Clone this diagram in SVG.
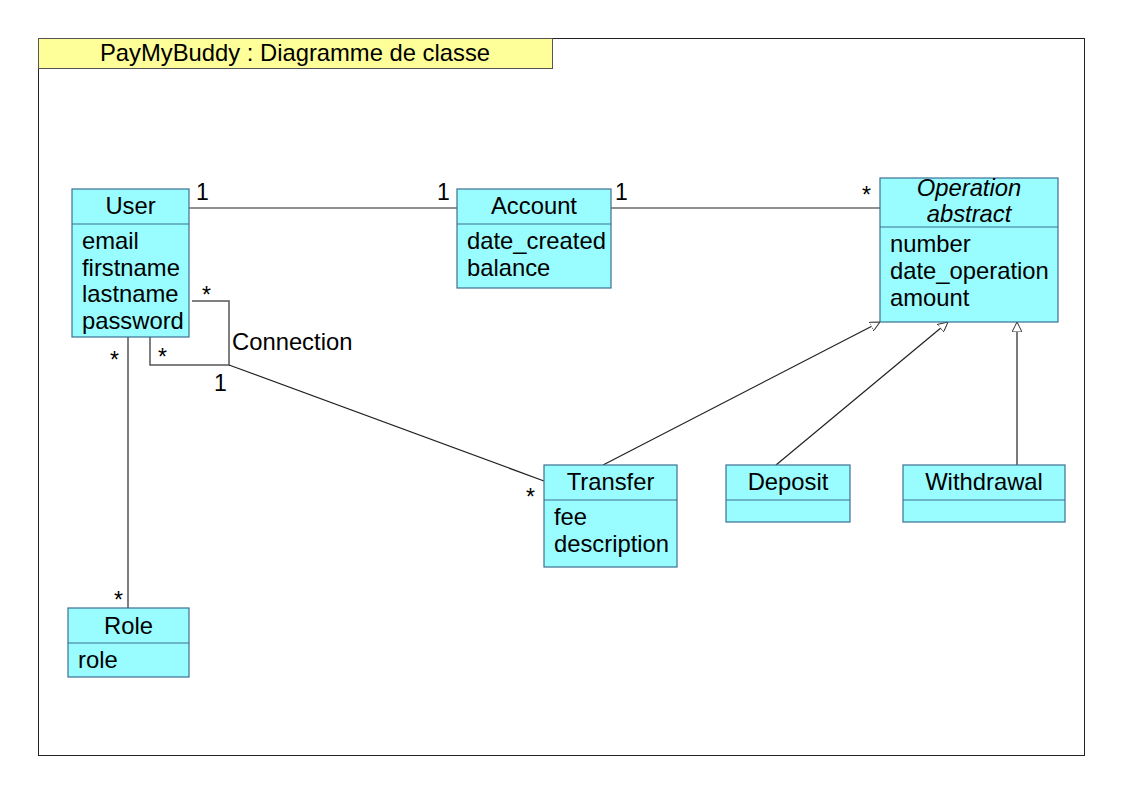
<svg xmlns="http://www.w3.org/2000/svg" width="1123" height="794" viewBox="0 0 1123 794">
<defs>
<style>
text{font-family:"Liberation Sans",Arial,sans-serif;font-size:23.8px;fill:#000}
.c{text-anchor:middle}
.box{fill:#99fcff;stroke:#3d6f92;stroke-width:1.2}
.div{stroke:#3d6f92;stroke-width:1.2}
.ln{fill:none;stroke:#222;stroke-width:1.2}
.gl{fill:none;stroke:#555;stroke-width:1.5}
.m{font-size:23px}
</style>
<marker id="tri" viewBox="0 0 10 10" refX="10" refY="5" markerWidth="10" markerHeight="10" markerUnits="userSpaceOnUse" orient="auto">
<path d="M0,0 L10,5 L0,10 Z" fill="#fff" stroke="#333" stroke-width="1"/>
</marker>
</defs>
<rect width="1123" height="794" fill="#fff"/>
<g id="frame">
<rect x="38.5" y="38.5" width="1046" height="717" fill="none" stroke="#222" stroke-width="1"/>
<rect x="38.5" y="38.5" width="514" height="30" fill="#ffff99" stroke="#555" stroke-width="1"/>
<text x="295" y="61" class="c">PayMyBuddy : Diagramme de classe</text>
</g>
<g id="connectors">
<line class="ln" x1="189" y1="208" x2="457" y2="208"/>
<line class="ln" x1="611" y1="208" x2="880" y2="208"/>
<polyline class="gl" points="192,301 229,301 229,365 150,365 150,337"/>
<line class="ln" x1="229" y1="365" x2="544" y2="481"/>
<line class="gl" x1="128" y1="337" x2="128" y2="608"/>
<line class="ln" x1="603" y1="465" x2="880" y2="322" marker-end="url(#tri)"/>
<line class="ln" x1="776" y1="465" x2="948" y2="322" marker-end="url(#tri)"/>
<line class="ln" x1="1017" y1="465" x2="1017" y2="322" marker-end="url(#tri)"/>
<text class="m" x="196" y="200">1</text>
<text class="m" x="437" y="200">1</text>
<text class="m" x="615" y="200">1</text>
<text class="m" x="862" y="203">*</text>
<text class="m" x="202" y="303">*</text>
<text class="m" x="158" y="365">*</text>
<text class="m" x="110" y="368">*</text>
<text class="m" x="114" y="608">*</text>
<text class="m" x="526" y="505">*</text>
<text class="m" x="214" y="391">1</text>
<text x="232" y="350">Connection</text>
</g>
<g id="User">
<rect class="box" x="72" y="189" width="117" height="148"/>
<line class="div" x1="72" y1="224" x2="189" y2="224"/>
<text x="130.5" y="214" class="c">User</text>
<text x="82" y="249">email</text>
<text x="82" y="275.5">firstname</text>
<text x="82" y="302">lastname</text>
<text x="82" y="328.5">password</text>
</g>
<g id="Account">
<rect class="box" x="457" y="189" width="154" height="99"/>
<line class="div" x1="457" y1="224" x2="611" y2="224"/>
<text x="534" y="214" class="c">Account</text>
<text x="467" y="249">date_created</text>
<text x="467" y="275.5">balance</text>
</g>
<g id="Operation">
<rect class="box" x="880" y="178" width="178" height="144"/>
<line class="div" x1="880" y1="227" x2="1058" y2="227"/>
<text x="969" y="196" class="c" font-style="italic">Operation</text>
<text x="969" y="222" class="c" font-style="italic">abstract</text>
<text x="890" y="252">number</text>
<text x="890" y="279">date_operation</text>
<text x="890" y="305.5">amount</text>
</g>
<g id="Transfer">
<rect class="box" x="544" y="465" width="133" height="102"/>
<line class="div" x1="544" y1="500" x2="677" y2="500"/>
<text x="610.5" y="490" class="c">Transfer</text>
<text x="554" y="525">fee</text>
<text x="554" y="551.5">description</text>
</g>
<g id="Deposit">
<rect class="box" x="726" y="465" width="124" height="57"/>
<line class="div" x1="726" y1="500" x2="850" y2="500"/>
<text x="788" y="490" class="c">Deposit</text>
</g>
<g id="Withdrawal">
<rect class="box" x="903" y="465" width="162" height="57"/>
<line class="div" x1="903" y1="500" x2="1065" y2="500"/>
<text x="984" y="490" class="c">Withdrawal</text>
</g>
<g id="Role">
<rect class="box" x="68" y="608" width="121" height="69"/>
<line class="div" x1="68" y1="643" x2="189" y2="643"/>
<text x="128.5" y="634" class="c">Role</text>
<text x="78" y="668">role</text>
</g>
</svg>
